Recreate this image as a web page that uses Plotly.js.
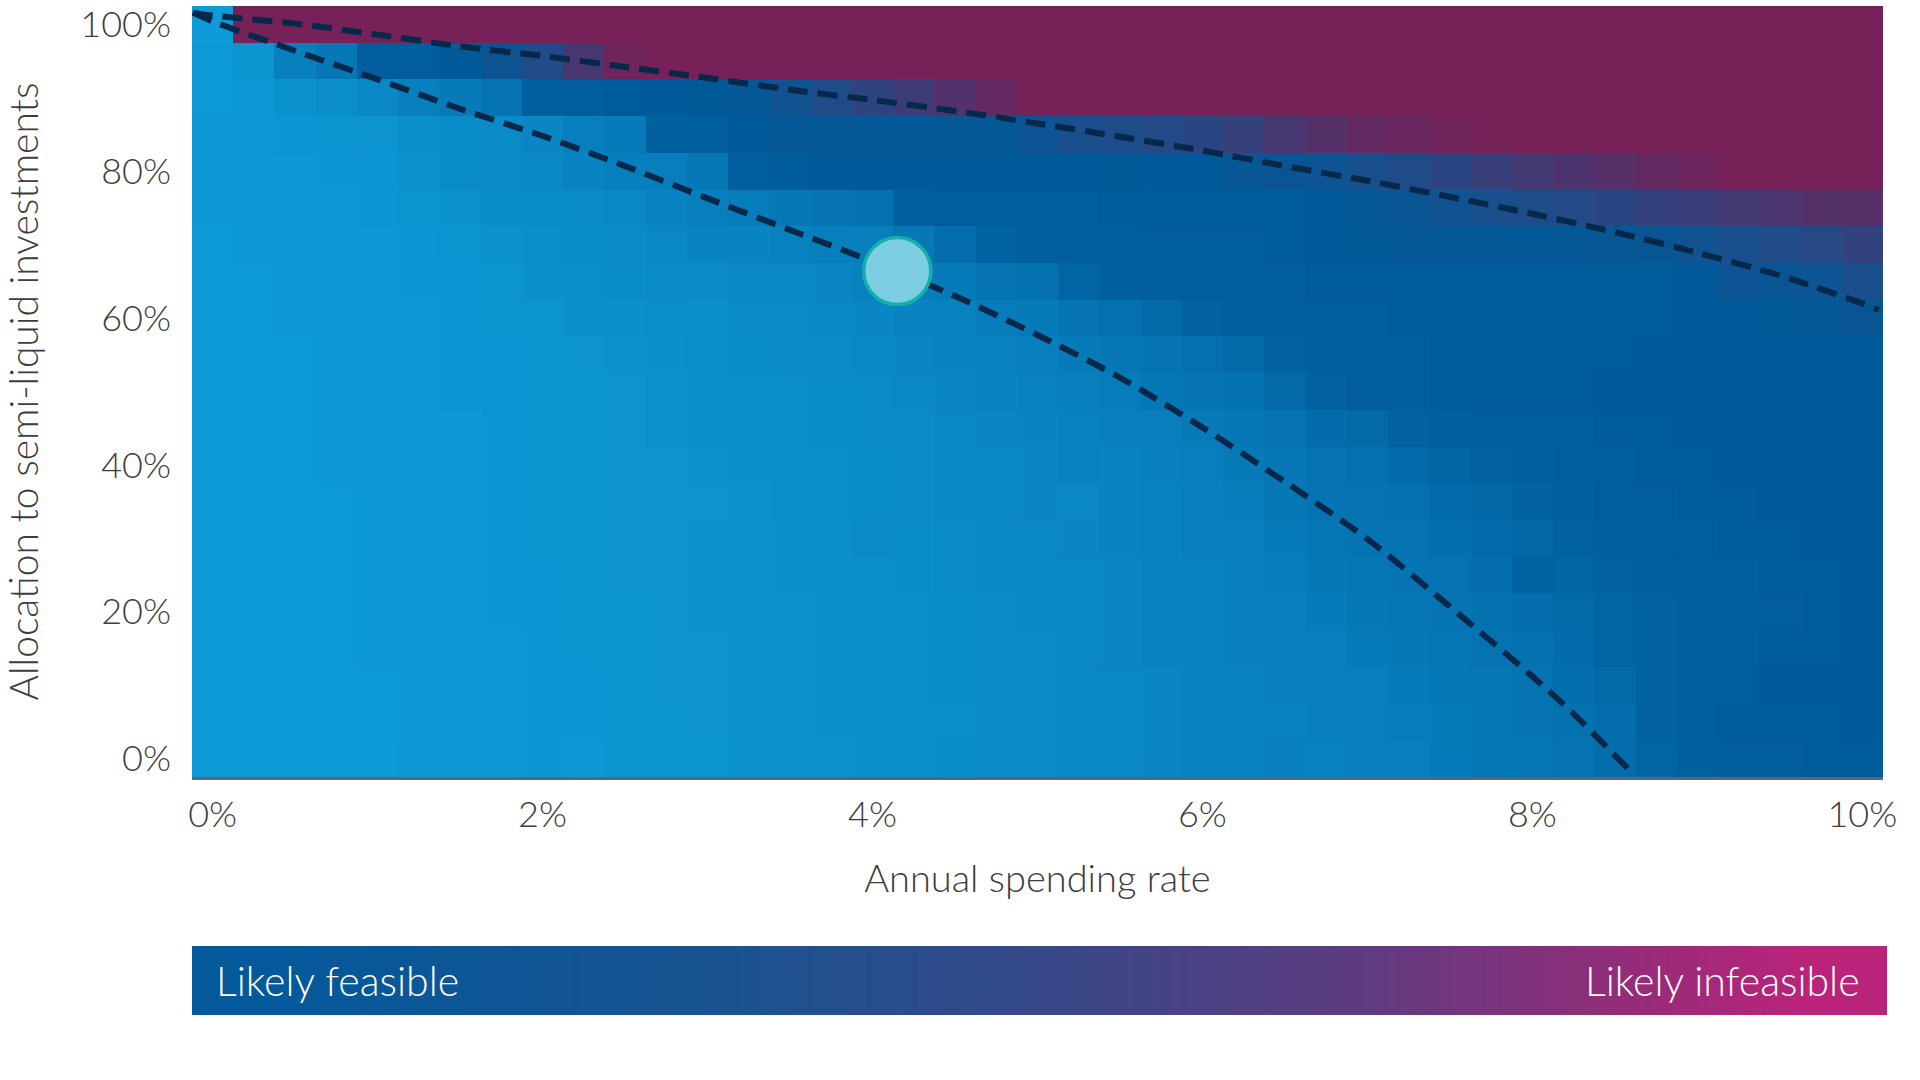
<!DOCTYPE html>
<html>
<head>
<meta charset="utf-8">
<script src="https://cdn.plot.ly/plotly-3.0.1.min.js"></script>
<style>
  html, body { margin: 0; padding: 0; background: #ffffff; }
  #chart { width: 1920px; height: 1080px; }
</style>
</head>
<body>
<div id="chart"></div>
<script>
// annual spending rate (%), one column per 0.25%
var spendRate = [0,0.25,0.5,0.75,1,1.25,1.5,1.75,2,2.25,2.5,2.75,3,3.25,3.5,3.75,4,4.25,4.5,4.75,
  5,5.25,5.5,5.75,6,6.25,6.5,6.75,7,7.25,7.5,7.75,8,8.25,8.5,8.75,9,9.25,9.5,9.75,10];
// allocation to semi-liquid investments (%), one row per 5%
var allocation = [0,5,10,15,20,25,30,35,40,45,50,55,60,65,70,75,80,85,90,95,100];

// feasibility score: 0 = light blue, 0.5 = deep blue, 1 = infeasible
var row00 = [0.01,0.02,0.02,0.01,0.01,0.03,0.03,0.04,0.05,0.04,0.06,0.06,0.06,0.08,0.08,0.08,0.09,0.10,0.12,0.13,0.14,0.15,0.16,0.17,0.19,0.20,0.21,0.20,0.22,0.23,0.25,0.28,0.29,0.31,0.35,0.42,0.45,0.48,0.48,0.49,0.49];
var row05 = [0.01,0.02,0.02,0.01,0.02,0.03,0.03,0.04,0.05,0.05,0.06,0.06,0.07,0.08,0.08,0.09,0.09,0.10,0.11,0.13,0.14,0.15,0.16,0.17,0.18,0.20,0.20,0.21,0.22,0.24,0.26,0.28,0.30,0.32,0.35,0.44,0.46,0.49,0.49,0.49,0.50];
var row10 = [0.01,0.02,0.02,0.02,0.02,0.03,0.04,0.04,0.05,0.05,0.06,0.07,0.07,0.08,0.08,0.09,0.10,0.11,0.12,0.13,0.14,0.15,0.16,0.17,0.19,0.20,0.21,0.22,0.23,0.25,0.28,0.29,0.31,0.34,0.39,0.44,0.46,0.47,0.50,0.50,0.50];
var row15 = [0.01,0.02,0.02,0.02,0.03,0.03,0.04,0.04,0.05,0.06,0.06,0.07,0.07,0.08,0.08,0.09,0.10,0.11,0.12,0.13,0.14,0.15,0.17,0.18,0.20,0.21,0.22,0.23,0.25,0.27,0.28,0.31,0.32,0.36,0.42,0.44,0.46,0.48,0.49,0.49,0.50];
var row20 = [0.01,0.02,0.02,0.02,0.03,0.03,0.04,0.05,0.05,0.06,0.06,0.07,0.08,0.08,0.08,0.09,0.10,0.11,0.12,0.13,0.15,0.16,0.17,0.19,0.20,0.22,0.23,0.25,0.27,0.28,0.30,0.32,0.35,0.39,0.42,0.44,0.46,0.48,0.48,0.49,0.50];
var row25 = [0.01,0.02,0.02,0.02,0.03,0.03,0.04,0.05,0.05,0.06,0.07,0.07,0.08,0.08,0.09,0.09,0.10,0.12,0.13,0.15,0.16,0.16,0.17,0.19,0.20,0.22,0.24,0.27,0.28,0.30,0.31,0.35,0.43,0.42,0.44,0.46,0.48,0.48,0.49,0.49,0.50];
var row30 = [0.01,0.02,0.02,0.02,0.03,0.03,0.04,0.05,0.06,0.06,0.07,0.07,0.08,0.08,0.09,0.10,0.13,0.12,0.14,0.15,0.16,0.17,0.19,0.20,0.22,0.23,0.25,0.29,0.30,0.31,0.34,0.37,0.40,0.44,0.46,0.48,0.48,0.49,0.49,0.50,0.50];
var row35 = [0.01,0.02,0.02,0.02,0.03,0.04,0.04,0.05,0.06,0.06,0.07,0.07,0.07,0.08,0.10,0.11,0.12,0.13,0.15,0.16,0.17,0.16,0.19,0.20,0.22,0.24,0.27,0.30,0.31,0.33,0.37,0.40,0.44,0.46,0.48,0.48,0.49,0.49,0.50,0.50,0.50];
var row40 = [0.01,0.02,0.02,0.03,0.03,0.04,0.04,0.05,0.06,0.06,0.07,0.07,0.08,0.09,0.10,0.11,0.12,0.14,0.15,0.16,0.17,0.20,0.19,0.21,0.23,0.26,0.28,0.31,0.33,0.37,0.42,0.44,0.46,0.48,0.48,0.49,0.49,0.50,0.50,0.50,0.50];
var row45 = [0.01,0.02,0.02,0.03,0.03,0.04,0.04,0.05,0.06,0.06,0.07,0.08,0.09,0.09,0.11,0.12,0.13,0.14,0.16,0.17,0.18,0.20,0.21,0.23,0.26,0.28,0.31,0.36,0.39,0.44,0.46,0.48,0.48,0.48,0.49,0.49,0.50,0.50,0.50,0.50,0.50];
var row50 = [0.01,0.02,0.02,0.03,0.03,0.04,0.05,0.05,0.06,0.06,0.07,0.08,0.09,0.10,0.11,0.12,0.14,0.15,0.17,0.18,0.20,0.22,0.24,0.28,0.30,0.32,0.39,0.44,0.48,0.48,0.49,0.49,0.49,0.49,0.50,0.50,0.50,0.50,0.50,0.50,0.50];
var row55 = [0.01,0.02,0.02,0.03,0.03,0.04,0.05,0.05,0.06,0.07,0.08,0.09,0.11,0.12,0.13,0.14,0.15,0.17,0.19,0.20,0.23,0.25,0.28,0.30,0.33,0.39,0.44,0.46,0.48,0.48,0.49,0.49,0.49,0.49,0.49,0.50,0.50,0.50,0.50,0.50,0.50];
var row60 = [0.02,0.02,0.03,0.03,0.04,0.04,0.05,0.06,0.06,0.09,0.09,0.11,0.10,0.13,0.14,0.15,0.17,0.19,0.20,0.24,0.26,0.30,0.33,0.39,0.44,0.46,0.47,0.48,0.48,0.49,0.49,0.49,0.49,0.49,0.49,0.49,0.50,0.50,0.51,0.52,0.54];
var row65 = [0.02,0.02,0.03,0.03,0.04,0.05,0.05,0.06,0.09,0.11,0.12,0.13,0.13,0.16,0.16,0.17,0.20,0.23,0.25,0.30,0.32,0.42,0.46,0.46,0.47,0.48,0.48,0.49,0.49,0.49,0.49,0.49,0.49,0.49,0.49,0.49,0.50,0.55,0.54,0.55,0.60];
var row70 = [0.02,0.03,0.03,0.04,0.04,0.05,0.06,0.08,0.10,0.12,0.13,0.15,0.18,0.18,0.20,0.22,0.23,0.27,0.35,0.43,0.46,0.46,0.47,0.48,0.48,0.48,0.49,0.50,0.51,0.52,0.52,0.52,0.52,0.52,0.53,0.54,0.57,0.60,0.63,0.66,0.71];
var row75 = [0.03,0.03,0.04,0.04,0.05,0.06,0.08,0.12,0.12,0.14,0.16,0.19,0.22,0.24,0.27,0.30,0.32,0.46,0.48,0.48,0.48,0.48,0.49,0.49,0.49,0.49,0.49,0.50,0.52,0.54,0.57,0.60,0.62,0.65,0.68,0.72,0.75,0.79,0.82,0.86,0.87];
var row80 = [0.03,0.04,0.04,0.05,0.05,0.08,0.12,0.13,0.15,0.18,0.22,0.23,0.28,0.46,0.49,0.50,0.50,0.50,0.50,0.50,0.50,0.50,0.51,0.50,0.50,0.53,0.54,0.55,0.60,0.63,0.68,0.74,0.79,0.83,0.87,0.92,0.96,1,1,1,1];
var row85 = [0.03,0.04,0.05,0.06,0.07,0.10,0.12,0.14,0.17,0.22,0.25,0.45,0.46,0.50,0.52,0.52,0.52,0.52,0.52,0.52,0.55,0.60,0.62,0.65,0.68,0.73,0.80,0.86,0.92,0.95,0.97,1,1,1,1,1,1,1,1,1,1];
var row90 = [0.02,0.03,0.08,0.11,0.15,0.21,0.26,0.31,0.46,0.48,0.49,0.50,0.51,0.52,0.57,0.63,0.69,0.76,0.85,0.93,1,1,1,1,1,1,1,1,1,1,1,1,1,1,1,1,1,1,1,1,1];
var row95 = [0.02,0.06,0.21,0.27,0.47,0.48,0.50,0.56,0.63,0.80,0.97,1,1,1,1,1,1,1,1,1,1,1,1,1,1,1,1,1,1,1,1,1,1,1,1,1,1,1,1,1,1];
var row100 = [0,1,1,1,1,1,1,1,1,1,1,1,1,1,1,1,1,1,1,1,1,1,1,1,1,1,1,1,1,1,1,1,1,1,1,1,1,1,1,1,1];

// dashed boundary curves
var lowerX = [-0.12,0,0.5,1,1.5,2,2.5,3,3.5,4,4.5,5,5.5,6,6.5,7,7.5,8,8.25,8.58];
var lowerY = [101.6,100.4,96.4,92.5,88.5,84.8,80.7,76.3,72.0,67.7,63.0,57.7,51.9,45.1,37.7,29.9,20.7,11.2,6.1,-1.4];
var upperX = [-0.12,0,0.5,1,1.5,2,2.5,3,3.5,4,4.5,5,5.5,6,6.5,7,7.5,8,8.5,9,9.5,10,10.1];
var upperY = [101.6,101.2,100.1,98.6,97.0,95.7,94.2,92.7,91.1,89.7,88.2,86.5,84.7,82.8,80.7,78.7,76.5,74.2,71.7,68.9,65.8,62.0,61.1];

// highlighted portfolio
var pointX = [4.15];
var pointY = [66.4];

var xTickVals = [0,2,4,6,8,10];
var xTickText = ['0%','2%','4%','6%','8%','10%'];
var yTickVals = [0,20,40,60,80,100];
var yTickText = ['0%','20%','40%','60%','80%','100%'];

// legend ramp
var legendRamp = [0,0.1,0.2,0.3,0.4,0.5,0.6,0.7,0.8,0.9,1];

var zMatrix = [row00,row05,row10,row15,row20,row25,row30,row35,row40,row45,row50,
  row55,row60,row65,row70,row75,row80,row85,row90,row95,row100];

var font = 'Lato, "Open Sans", sans-serif';
var textGrey = '#3d3d3d';

var heat = {
  type: 'heatmap',
  x: spendRate,
  y: allocation,
  z: zMatrix,
  zmin: 0,
  zmax: 1,
  colorscale: [[0, '#0e9cd9'], [0.5, '#005a99'], [1, '#762158']],
  showscale: false,
  hoverinfo: 'skip'
};

var dashLine = { color: '#06284a', width: 6, dash: '20px,10px' };

var lower = {
  type: 'scatter', mode: 'lines', x: lowerX, y: lowerY,
  line: Object.assign({ shape: 'spline', smoothing: 0.8 }, dashLine),
  hoverinfo: 'skip'
};
var upper = {
  type: 'scatter', mode: 'lines', x: upperX, y: upperY,
  line: Object.assign({ shape: 'spline', smoothing: 0.8 }, dashLine),
  hoverinfo: 'skip'
};
var point = {
  type: 'scatter', mode: 'markers', x: pointX, y: pointY,
  marker: { size: 67, color: '#7dcee2', line: { color: '#12b2aa', width: 3.5 } },
  hoverinfo: 'skip'
};

var legendBar = {
  type: 'heatmap',
  x: legendRamp,
  y: [0],
  z: [legendRamp],
  xaxis: 'x2',
  yaxis: 'y2',
  zsmooth: 'best',
  zmin: 0,
  zmax: 1,
  colorscale: [[0, '#03599a'], [0.3, '#1a5290'], [0.5, '#374888'], [0.7, '#5c3c80'], [0.85, '#8a2f79'], [1, '#ba237a']],
  showscale: false,
  hoverinfo: 'skip'
};

var layout = {
  width: 1920,
  height: 1080,
  margin: { l: 192, r: 33, t: 6, b: 65 },
  paper_bgcolor: '#ffffff',
  plot_bgcolor: '#ffffff',
  showlegend: false,
  font: { family: font, color: textGrey, weight: 300 },
  xaxis: {
    domain: [0, 0.9976],
    range: [-0.125, 10.125],
    tickvals: xTickVals,
    ticktext: xTickText,
    ticks: '',
    ticklabelstandoff: 4,
    showgrid: false,
    zeroline: false,
    showline: true,
    linecolor: '#5b6670',
    linewidth: 3,
    tickfont: { family: font, size: 36, color: textGrey, weight: 300 },
    title: { text: 'Annual spending rate', font: { family: font, size: 38, color: textGrey, weight: 300 }, standoff: 32 }
  },
  yaxis: {
    domain: [0.2359, 1],
    range: [-2.5, 102.5],
    tickvals: yTickVals,
    ticktext: yTickText,
    ticks: '',
    ticklabelstandoff: 20,
    showgrid: false,
    zeroline: false,
    tickfont: { family: font, size: 36, color: textGrey, weight: 300 },
    title: { text: 'Allocation to semi-liquid investments', font: { family: font, size: 39, color: textGrey, weight: 300 }, standoff: 42 }
  },
  xaxis2: { domain: [0, 1], anchor: 'y2', range: [-0.05, 1.05], visible: false, fixedrange: true },
  yaxis2: { domain: [0, 0.0684], anchor: 'x2', range: [-0.5, 0.5], visible: false, fixedrange: true },
  annotations: [
    { text: 'Likely feasible', xref: 'paper', yref: 'paper', x: 0.013, y: 0.0342,
      xanchor: 'left', yanchor: 'middle', showarrow: false,
      font: { family: font, size: 41, color: '#ffffff', weight: 300 } },
    { text: 'Likely infeasible', xref: 'paper', yref: 'paper', x: 0.9853, y: 0.0342,
      xanchor: 'right', yanchor: 'middle', showarrow: false,
      font: { family: font, size: 41, color: '#ffffff', weight: 300 } }
  ]
};

Plotly.newPlot('chart', [heat, lower, upper, point, legendBar], layout, { displayModeBar: false, staticPlot: true });
</script>
</body>
</html>
